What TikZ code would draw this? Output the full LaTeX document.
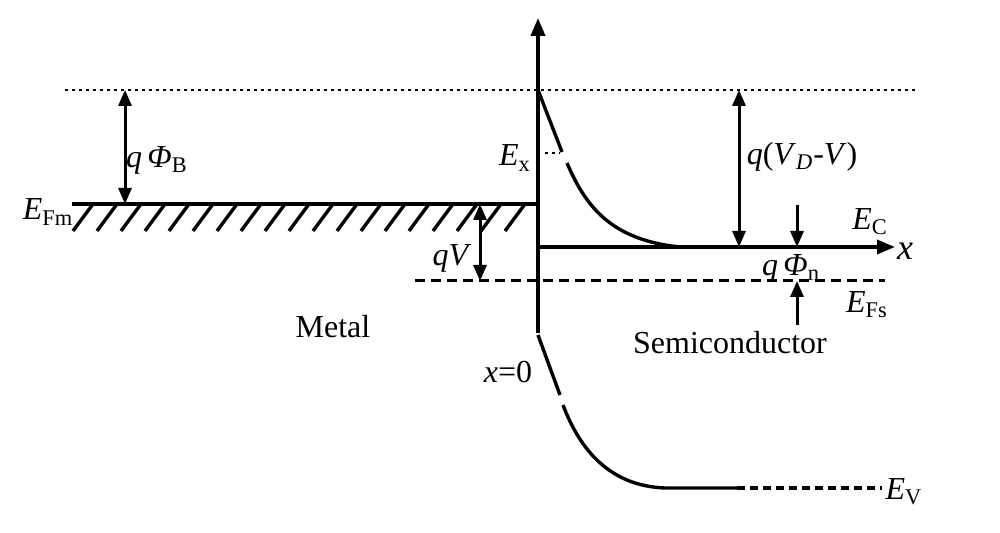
\documentclass[tikz,border=0pt]{standalone}
\usepackage{fontspec}
\setmainfont{Liberation Serif}
\usetikzlibrary{arrows.meta}
\tikzset{
  band/.style={line width=1.7pt},
  dimarrow/.style={line width=1.5pt, {Triangle[length=8pt,width=6.5pt]}-{Triangle[length=8pt,width=6.5pt]}},
  onearrow/.style={line width=1.5pt, -{Triangle[length=8pt,width=6.5pt]}},
  lbl/.style={inner sep=0pt, font=\fontsize{16}{18}\selectfont},
}

\begin{document}
\begin{tikzpicture}[x=0.5pt,y=-0.5pt]
\useasboundingbox (0,0) rectangle (1000,533);
% levels
\coordinate (vacL) at (65,90);
\coordinate (vacR) at (915,90);
\coordinate (fmL) at (72,204);
\coordinate (fmR) at (538,204);
\coordinate (fsL) at (415,281);
\coordinate (fsR) at (885,281);
\coordinate (axbot) at (538,333);
\coordinate (axtop) at (538,18);
\coordinate (orig) at (538,247);
\coordinate (xend) at (895,247);

\draw[line width=1.2pt, dash pattern=on 1.5pt off 2pt] (vacL) -- (vacR);
\draw[line width=1.5pt, dash pattern=on 5pt off 3pt] (fsL) -- (fsR);
\draw[line width=1.9pt, -{Triangle[length=9pt,width=7pt]}] (axbot) -- (axtop);
\draw[band, -{Triangle[length=9pt,width=7pt]}] (orig) -- (xend);

% metal Fermi level with hatching
\draw[band] (fmL) -- (fmR);
\foreach \i in {0,...,18}
  \draw[band] (93+24*\i,204) -- (73+24*\i,231);

% conduction band edge
\draw[band] (538,90) -- (562,152);
\draw[band] (567,163) .. controls (585,205) and (610,240) .. (680,247);
\draw[line width=1.2pt, dash pattern=on 1.5pt off 2pt] (545,153) -- (560,153);

% valence band edge
\draw[band] (538,335) -- (560,395);
\draw[band] (563,405) .. controls (580,450) and (610,486) .. (665,488) -- (737,488);
\draw[band, dash pattern=on 4pt off 2.5pt] (737,488) -- (882,488);

% dimensions
\draw[dimarrow] (125,90) -- (125,204);
\draw[dimarrow] (480,204) -- (480,281);
\draw[dimarrow] (739,90) -- (739,247);
\draw[onearrow] (797,205) -- (797,247);
\draw[onearrow] (797,325) -- (797,281);

% labels
\node[lbl] (qphib) at (157,160) {\textit{q\,Φ}\textsubscript{B}};
\node[lbl] (efm) at (48,212) {\textit{E}\textsubscript{Fm}};
\node[lbl] (qv) at (452,258) {\textit{qV}};
\node[lbl] (metal) at (333,327) {Metal};
\node[lbl] (ex) at (515,158) {\textit{E}\textsubscript{x}};
\node[lbl] (qvd) at (802,157) {\textit{q}(\textit{V}\textsubscript{\textit{D}}-\textit{V})};
\node[lbl] (ec) at (870,222) {\textit{E}\textsubscript{C}};
\node[lbl, font=\fontsize{18}{20}\selectfont] (xlab) at (905,251) {\textit{x}};
\node[lbl] (qphin) at (791,268) {\textit{q\,Φ}\textsubscript{n}};
\node[lbl] (efs) at (867,305) {\textit{E}\textsubscript{Fs}};
\node[lbl] (semi) at (730,343) {Semiconductor};
\node[lbl] (x0) at (508,372) {\textit{x}=0};
\node[lbl] (ev) at (904,492) {\textit{E}\textsubscript{V}};
\end{tikzpicture}
\end{document}
